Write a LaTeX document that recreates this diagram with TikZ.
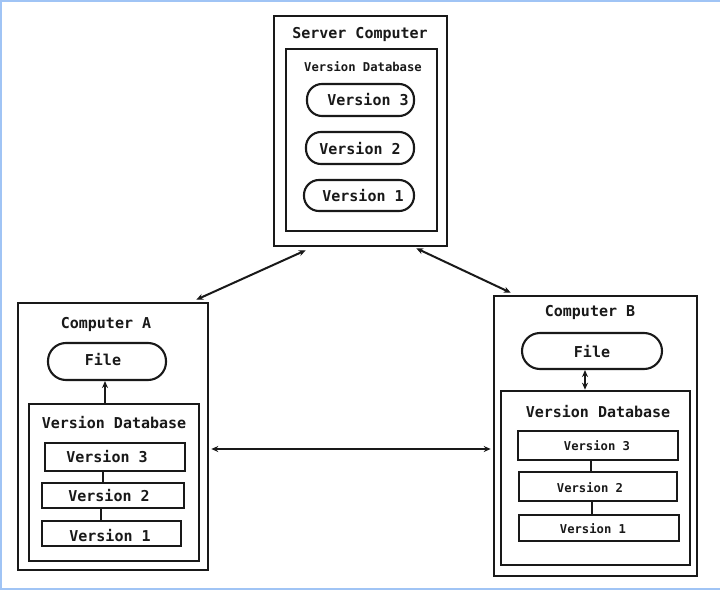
\documentclass[tikz,border=0pt]{standalone}
\usepackage{fontspec}
\setmonofont{DejaVu Sans Mono}
\usetikzlibrary{arrows.meta,calc}
\definecolor{frameblue}{RGB}{160,196,245}
\definecolor{ink}{RGB}{25,25,25}
\tikzset{
  box/.style={draw=ink, line width=2.6pt, minimum width=#1},
  dbbox/.style={draw=ink, line width=2.6pt},
  oval/.style={draw=ink, line width=2.1pt, rounded corners=15pt},
  ver/.style={draw=ink, line width=2.1pt},
  big/.style={font=\fontsize{15}{18}\selectfont\ttfamily\bfseries, inner sep=0pt, text=ink},
  small/.style={font=\fontsize{12.2}{14}\selectfont\ttfamily\bfseries, inner sep=0pt, text=ink},
  link/.style={draw=ink, line width=2pt},
  conn/.style={draw=ink, line width=2pt, {Stealth[length=7pt,width=6pt]}-{Stealth[length=7pt,width=6pt]}},
  one/.style={draw=ink, line width=2pt, -{Stealth[length=7pt,width=6pt]}},
}
\begin{document}
\begin{tikzpicture}[x=1pt,y=-1pt]
\useasboundingbox (0,0) rectangle (720,591);
% frame
\draw[frameblue, line width=2pt] (720,1) -- (1,1) -- (1,589) -- (720,589);

% Server
\node[box=173pt, minimum height=230pt, inner sep=0pt] (srv) at (360.5,131) {};
\node[big] (srvt) at (360,34) {Server Computer};
\node[dbbox, minimum width=151pt, minimum height=182pt, inner sep=0pt] (sdb) at (361.5,140) {};
\node[small] (sdbt) at (363,67) {Version Database};
\node[oval, minimum width=107pt, minimum height=32pt, inner sep=0pt] (s3) at (360.5,100) {};
\node[big] (s3t) at (368,100) {Version 3};
\node[oval, minimum width=108pt, minimum height=32pt, inner sep=0pt] (s2) at (360,148) {};
\node[big] (s2t) at (360,149) {Version 2};
\node[oval, minimum width=110pt, minimum height=31pt, inner sep=0pt] (s1) at (359,195.5) {};
\node[big] (s1t) at (363,196) {Version 1};

% Computer A
\node[box=190pt, minimum height=267pt, inner sep=0pt] (ca) at (113,436.5) {};
\node[big] (cat) at (106,324) {Computer A};
\node[oval, minimum width=118pt, minimum height=37pt, inner sep=0pt, rounded corners=18pt] (af) at (107,361.5) {};
\node[big] (aft) at (103,360) {File};
\node[dbbox, minimum width=170pt, minimum height=157pt, inner sep=0pt] (adb) at (114,482.5) {};
\node[big] (adbt) at (114,423) {Version Database};
\node[ver, minimum width=140pt, minimum height=28pt, inner sep=0pt] (a3) at (115,457) {};
\node[big] (a3t) at (107,457) {Version 3};
\node[ver, minimum width=142pt, minimum height=25pt, inner sep=0pt] (a2) at (113,495.5) {};
\node[big] (a2t) at (109,496) {Version 2};
\node[ver, minimum width=139pt, minimum height=25pt, inner sep=0pt] (a1) at (111.5,533.5) {};
\node[big] (a1t) at (110,536) {Version 1};
\draw[link] (a3.south -| 103,0) -- (a2.north -| 103,0);
\draw[link] (a2.south -| 101,0) -- (a1.north -| 101,0);
\draw[one] (adb.north -| 105,0) -- (af.south -| 105,0);

% Computer B
\node[box=203pt, minimum height=280pt, inner sep=0pt] (cb) at (595.5,436) {};
\node[big] (cbt) at (590,312) {Computer B};
\node[oval, minimum width=140pt, minimum height=36pt, inner sep=0pt, rounded corners=18pt] (bf) at (592,351) {};
\node[big] (bft) at (592,352) {File};
\node[dbbox, minimum width=189pt, minimum height=174pt, inner sep=0pt] (bdb) at (595.5,478) {};
\node[big] (bdbt) at (598,412) {Version Database};
\node[ver, minimum width=160pt, minimum height=29pt, inner sep=0pt] (b3) at (598,445.5) {};
\node[small] (b3t) at (597,446) {Version 3};
\node[ver, minimum width=158pt, minimum height=29pt, inner sep=0pt] (b2) at (598,486.5) {};
\node[small] (b2t) at (590,488) {Version 2};
\node[ver, minimum width=160pt, minimum height=26pt, inner sep=0pt] (b1) at (599,528) {};
\node[small] (b1t) at (593,529) {Version 1};
\draw[link] (b3.south -| 591,0) -- (b2.north -| 591,0);
\draw[link] (b2.south -| 592,0) -- (b1.north -| 592,0);
\draw[conn] (bf.south -| 585,0) -- (bdb.north -| 585,0);

% links between computers
\draw[conn] ($(srv.south west)+(33,3)$) -- ($(ca.north east)+(-13,-2)$);
\draw[conn] ($(srv.south east)+(-32,1)$) -- ($(cb.north west)+(18,-2)$);
\draw[conn] ($(ca.east)+(2,12.5)$) -- ($(cb.west)+(-2,13)$);
\end{tikzpicture}
\end{document}
